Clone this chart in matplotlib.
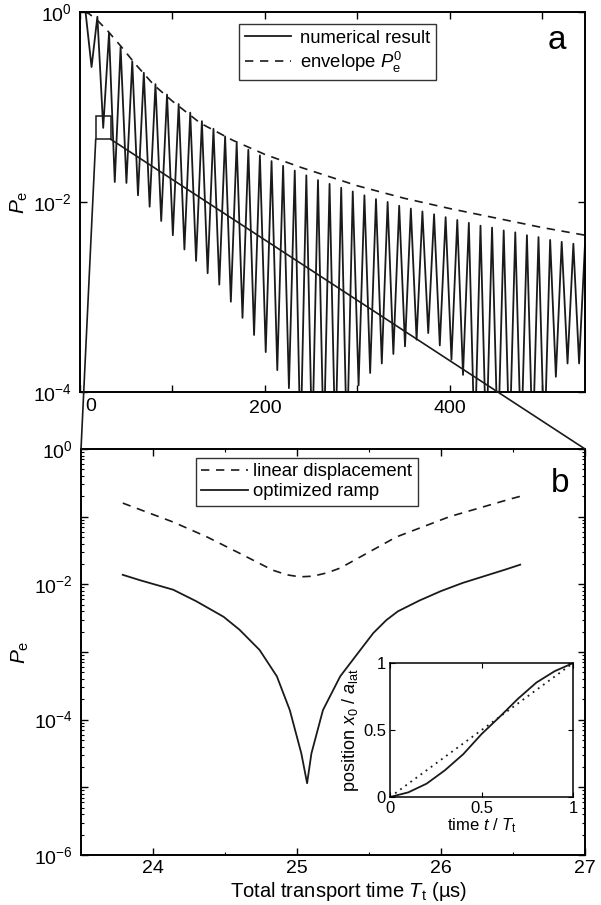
import numpy as np
import matplotlib
matplotlib.use('Agg')
import matplotlib.pyplot as plt
from matplotlib.patches import Rectangle, ConnectionPatch
from matplotlib.ticker import LogLocator, FixedLocator, NullLocator, FuncFormatter, NullFormatter

plt.rcParams['font.family'] = ['Liberation Sans', 'DejaVu Sans']
plt.rcParams['mathtext.fontset'] = 'custom'
plt.rcParams['mathtext.rm'] = 'Liberation Sans'
plt.rcParams['mathtext.it'] = 'Liberation Sans:italic'
plt.rcParams['mathtext.bf'] = 'Liberation Sans:bold'

# ---------------- panel a data ----------------
start_T = [6.0]
start_logP = [0.0]
dip_T = [12.5, 25.1, 37.6, 50.2, 62.7, 75.3, 87.8, 100.4, 112.9, 125.5, 138.0,
         150.6, 163.1, 175.7, 188.2, 200.8, 213.3, 225.9, 238.4, 251.0, 263.5,
         276.1, 288.6, 301.2, 313.7, 326.3, 338.8, 351.4, 363.9, 376.5, 389.0,
         401.6, 414.1, 426.7, 439.2, 451.8, 464.3, 476.9, 489.4, 502.0, 514.5,
         527.1, 539.6]
dip_logP = [-0.58, -1.22, -1.79, -1.80, -1.93, -2.05, -2.20, -2.35, -2.50, -2.62,
            -2.75, -2.87, -3.05, -3.22, -3.40, -3.58, -3.77, -3.96, -4.6, -4.6,
            -4.6, -4.6, -4.6, -3.93, -3.80, -3.70, -3.60, -3.52, -3.45, -3.38,
            -3.51, -3.66, -3.82, -4.6, -4.6, -4.6, -4.6, -4.6, -4.6, -4.6,
            -3.84, -3.70, -3.70]
peak_T = [18.8, 31.4, 43.9, 56.5, 69.0, 81.6, 94.1, 106.7, 119.2, 131.8, 144.3,
          156.9, 169.4, 182.0, 194.5, 207.1, 219.6, 232.2, 244.7, 257.3, 269.8,
          282.4, 294.9, 307.5, 320.0, 332.6, 345.1, 357.7, 370.2, 382.8, 395.3,
          407.9, 420.4, 433.0, 445.5, 458.1, 470.6, 483.2, 495.7, 508.3, 520.8,
          533.4, 545.9]
peak_logP = [-0.05, -0.22, -0.37, -0.52, -0.64, -0.76, -0.87, -0.97, -1.06, -1.15,
             -1.23, -1.31, -1.38, -1.45, -1.51, -1.57, -1.62, -1.67, -1.72, -1.77,
             -1.81, -1.85, -1.89, -1.93, -1.97, -2.00, -2.04, -2.07, -2.10, -2.13,
             -2.16, -2.19, -2.22, -2.25, -2.27, -2.30, -2.32, -2.35, -2.37, -2.40,
             -2.42, -2.44, -2.46]
env_T = [5, 10, 20, 30, 45, 60, 80, 100, 130, 165, 200, 240, 300, 350, 400, 450, 500, 546]
env_logP = [0.0, -0.02, -0.10, -0.20, -0.37, -0.55, -0.77, -0.94, -1.17, -1.35,
            -1.50, -1.64, -1.83, -1.96, -2.07, -2.17, -2.27, -2.35]

# ---------------- panel b data ----------------
lin_T = [23.79, 24.14, 24.375, 24.60, 24.83, 24.93, 25.02, 25.11, 25.21, 25.30,
         25.69, 26.06, 26.48, 26.55]
lin_logP = [-0.80, -1.08, -1.30, -1.54, -1.79, -1.86, -1.89, -1.88, -1.83, -1.76,
            -1.30, -1.00, -0.74, -0.70]
opt_T = [23.79, 23.91, 24.14, 24.30, 24.49, 24.60, 24.74, 24.86, 24.95, 25.03, 25.07,
         25.10, 25.18, 25.30, 25.44, 25.53, 25.62, 25.70, 25.85, 26.00, 26.15,
         26.30, 26.45, 26.55]
opt_logP = [-1.86, -1.94, -2.08, -2.25, -2.48, -2.67, -2.97, -3.36, -3.86, -4.50, -4.94,
            -4.50, -3.86, -3.36, -2.97, -2.72, -2.53, -2.40, -2.24, -2.10, -1.98,
            -1.88, -1.78, -1.71]

# ---------------- inset data ----------------
ramp_t = [0, 0.1, 0.2, 0.3, 0.4, 0.5, 0.6, 0.7, 0.8, 0.9, 1.0]
ramp_x = [0, 0.035, 0.10, 0.20, 0.32, 0.47, 0.60, 0.735, 0.855, 0.94, 1.0]
lin_t = [0, 1]
lin_x = [0, 1]

# ---------------- figure ----------------
fig = plt.figure(figsize=(6.01, 9.05), dpi=100)
ax_a = fig.add_axes([0.1331, 0.5669, 0.8403, 0.4199])
ax_b = fig.add_axes([0.1348, 0.0553, 0.8386, 0.4486])

col = '#1a1a1a'

def even_fmt(v, pos):
    e = int(np.round(np.log10(v)))
    if e % 2 == 0:
        return r'$\mathregular{10^{%d}}$' % e
    return ''

# panel a curve
cx = list(start_T)
cy = list(start_logP)
for i in range(len(dip_T)):
    cx.append(dip_T[i]); cy.append(dip_logP[i])
    cx.append(peak_T[i]); cy.append(peak_logP[i])
ax_a.plot(cx, 10 ** np.array(cy), color=col, lw=1.3, label='numerical result')
ax_a.plot(env_T, 10 ** np.array(env_logP), color=col, lw=1.2, ls=(0, (5, 4)),
          label=r'envelope $P_\mathrm{e}^0$')
ax_a.set_yscale('log')
ax_a.set_xlim(0, 546)
ax_a.set_ylim(1e-4, 1)
ax_a.yaxis.set_major_locator(FixedLocator([1e-4, 1e-2, 1]))
ax_a.yaxis.set_major_formatter(FuncFormatter(even_fmt))
ax_a.yaxis.set_minor_locator(NullLocator())
ax_a.xaxis.set_major_locator(FixedLocator([0, 100, 200, 300, 400, 500]))
ax_a.set_xticklabels(['', '', '200', '', '400', ''])
# "0" label sits slightly right of its tick in the reference
ax_a.annotate('0', xy=(0, 0), xycoords=('data', 'axes fraction'),
              xytext=(7.5, -4.6), textcoords='offset points',
              ha='center', va='top', fontsize=14)
ax_a.set_ylabel(r'$P_\mathrm{e}$', fontsize=15, labelpad=2)
leg = ax_a.legend(loc='upper left', bbox_to_anchor=(0.315, 0.968), fontsize=13.3,
                  frameon=True, fancybox=False, edgecolor='k', handlelength=2.5,
                  handletextpad=0.5, borderpad=0.3, labelspacing=0.15,
                  borderaxespad=0)
leg.get_frame().set_linewidth(1.0)
ax_a.text(0.945, 0.925, 'a', transform=ax_a.transAxes, fontsize=24,
          ha='center', va='center')

# zoom box in panel a
box_x0, box_x1 = 17.0, 33.2
box_y0, box_y1 = 0.0457, 0.081
ax_a.add_patch(Rectangle((box_x0, box_y0), box_x1 - box_x0, box_y1 - box_y0,
                         fill=False, ec=col, lw=1.1, zorder=5))

# panel b
ax_b.plot(lin_T, 10 ** np.array(lin_logP), color=col, lw=1.2, ls=(0, (5, 4)),
          label='linear displacement')
ax_b.plot(opt_T, 10 ** np.array(opt_logP), color=col, lw=1.3, label='optimized ramp')
ax_b.set_yscale('log')
ax_b.set_xlim(23.5, 27)
ax_b.set_ylim(1e-6, 1)
ax_b.yaxis.set_major_locator(FixedLocator([1e-6, 1e-5, 1e-4, 1e-3, 1e-2, 1e-1, 1]))
ax_b.yaxis.set_major_formatter(FuncFormatter(even_fmt))
ax_b.yaxis.set_minor_locator(LogLocator(base=10, subs=np.arange(2, 10), numticks=20))
ax_b.yaxis.set_minor_formatter(NullFormatter())
ax_b.xaxis.set_major_locator(FixedLocator([24, 25, 26, 27]))
ax_b.xaxis.set_minor_locator(FixedLocator([24.5, 25.5, 26.5]))
ax_b.set_ylabel(r'$P_\mathrm{e}$', fontsize=15, labelpad=2)
ax_b.set_xlabel(r'Total transport time $T_\mathrm{t}$ (µs)', fontsize=14.5)
ax_b.xaxis.set_label_coords(0.53, -0.062)
leg2 = ax_b.legend(loc='upper left', bbox_to_anchor=(0.228, 0.978), fontsize=13.3,
                   frameon=True, fancybox=False, edgecolor='k', handlelength=2.5,
                   handletextpad=0.3, borderpad=0.3, labelspacing=0.15,
                   borderaxespad=0)
leg2.get_frame().set_linewidth(1.0)
ax_b.text(0.95, 0.915, 'b', transform=ax_b.transAxes, fontsize=24,
          ha='center', va='center')

for ax in (ax_a, ax_b):
    ax.tick_params(which='both', direction='in', top=True, right=True,
                   labelsize=14, pad=6)
    ax.tick_params(which='major', length=5, width=1.0)
    ax.tick_params(which='minor', length=2.5, width=0.8)
    for s in ax.spines.values():
        s.set_linewidth(1.4)
ax_b.tick_params(axis='x', which='both', pad=3.5)

# connection lines
con1 = ConnectionPatch(xyA=(box_x0, box_y0), coordsA=ax_a.transData,
                       xyB=(0, 1), coordsB=ax_b.transAxes, color=col, lw=1.2)
con2 = ConnectionPatch(xyA=(box_x1, box_y0), coordsA=ax_a.transData,
                       xyB=(1, 1), coordsB=ax_b.transAxes, color=col, lw=1.2)
fig.add_artist(con1)
fig.add_artist(con2)

# inset
ax_in = fig.add_axes([0.649, 0.1193, 0.3045, 0.148])
ax_in.plot(ramp_t, ramp_x, color=col, lw=1.3)
ax_in.plot(lin_t, lin_x, color=col, lw=1.3, ls=(0, (1, 2.5)))
ax_in.set_xlim(0, 1)
ax_in.set_ylim(0, 1)
ax_in.set_xticks([0, 0.5, 1])
ax_in.set_xticklabels(['0', '0.5', '1'])
ax_in.set_yticks([0, 0.5, 1])
ax_in.set_yticklabels(['0', '0.5', '1'])
ax_in.tick_params(direction='in', top=True, right=True, labelsize=12,
                  length=3.5, pad=3)
ax_in.set_xlabel(r'time $t$ / $T_\mathrm{t}$', fontsize=12, labelpad=0)
ax_in.set_ylabel(r'position $x_0$ / $a_\mathrm{lat}$', fontsize=13, labelpad=1)
for s in ax_in.spines.values():
    s.set_linewidth(1.1)

fig.savefig('out.png', dpi=100)
